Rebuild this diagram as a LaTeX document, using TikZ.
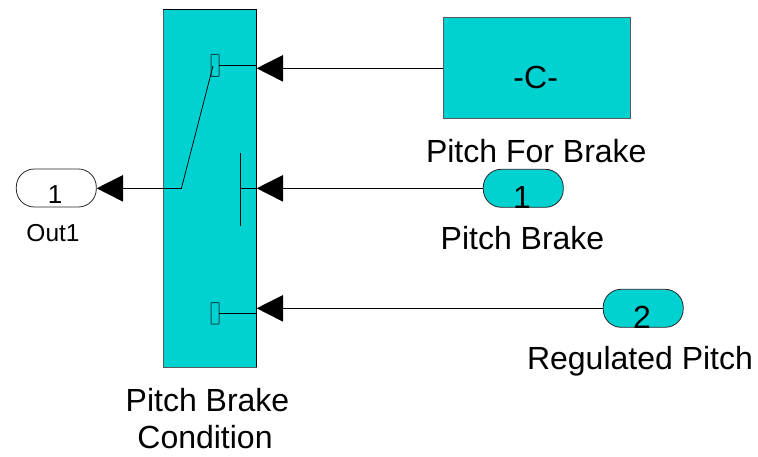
\documentclass[tikz,border=0pt]{standalone}
\usepackage{fontspec}
\setmainfont{Liberation Sans}
\definecolor{simcyan}{RGB}{0,210,210}
\definecolor{simdark}{RGB}{0,80,80}
\definecolor{edgegray}{RGB}{90,90,90}
\tikzset{
  x=1pt,y=-1pt,
  blockbox/.style={draw=edgegray,line width=0.9pt,fill=simcyan,inner sep=0pt},
  portpill/.style={draw=black!85,line width=0.8pt,rounded corners=18pt,inner sep=0pt,minimum width=80pt,minimum height=38pt},
  lbl/.style={font=\fontsize{32}{37}\selectfont,align=center,inner sep=0pt,anchor=base},
  digit/.style={font=\fontsize{32}{37}\selectfont,inner sep=0pt,anchor=base},
  wire/.style={line width=0.75pt,draw=black},
  tip/.style={fill=black,draw=none},
  contact/.style={draw=simdark,line width=1pt,rounded corners=0.5pt,fill=simcyan},
}
\begin{document}
\begin{tikzpicture}
\useasboundingbox (0,0) rectangle (758,457);
% switch block
\path[blockbox] (163,9.5) rectangle (256.5,367);
\draw[line width=0.9pt,draw=black] (163,9.5) -- (256.5,9.5) -- (256.5,367);
\coordinate (swr) at (256,188);
% contacts
\draw[contact] (211,54.5) rectangle (219,76.5);
\draw[contact] (211,302.5) rectangle (219,324);
\coordinate (c1) at (219,65.5);
\coordinate (c2) at (219,313);
\coordinate (c1r) at (256,65.5);
\coordinate (c2r) at (256,313);
\draw[wire] (c1) -- (c1r);
\draw[wire] (c2) -- (c2r);
% control bar
\coordinate (bartop) at (240,153);
\coordinate (barbot) at (240,226);
\coordinate (barmid) at (240,188);
\draw[wire] (bartop) -- (barbot);
\draw[wire] (barmid) -- (swr |- barmid);
% pole
\coordinate (pole) at (181.5,188);
\coordinate (poletop) at (213,66);
\draw[wire] (poletop) -- (pole);
% Constant
\node[blockbox,minimum width=187pt,minimum height=101.5pt] (const) at (536.5,68) {};
\node[digit] (constc) at (535.7,89) {-C-};
\node[lbl] (constl) at (536.3,163) {Pitch For Brake};
% Inports
\node[portpill,fill=simcyan] (in1) at (523.3,188.3) {};
\node[digit] (in1d) at (522,208.5) {1};
\node[lbl] (in1l) at (522.5,250) {Pitch Brake};
\node[portpill,fill=simcyan] (in2) at (643.2,308.3) {};
\node[digit] (in2d) at (642,328.5) {2};
\node[lbl] (in2l) at (640,369) {Regulated Pitch};
% Outport
\node[portpill,fill=white] (out) at (56.3,188) {};
\node[font=\fontsize{26}{30}\selectfont,inner sep=0pt,anchor=base] (outd) at (55,204) {1};
\node[font=\fontsize{24.5}{28}\selectfont,inner sep=0pt,anchor=base] (outl) at (53,242) {Out1};
% block label
\node[lbl,anchor=base] (swl1) at (207.5,411) {Pitch Brake};
\node[lbl,anchor=base] (swl2) at (205,448) {Condition};
% wires
\draw[wire] (const.west |- 0,68) -- (282,68);
\draw[wire] (in1.west) -- (282,188.3);
\draw[wire] (in2.west) -- (282,308.3);
\draw[wire] (pole) -- (122,188);
% arrowheads
\fill[tip] (256.7,68.3) -- (283,55) -- (283,81.7) -- cycle;
\fill[tip] (256.7,188.3) -- (283,175) -- (283,201.7) -- cycle;
\fill[tip] (256.7,308.3) -- (283,295) -- (283,321.7) -- cycle;
\fill[tip] (96.7,188.3) -- (123,175) -- (123,201.7) -- cycle;
\end{tikzpicture}
\end{document}
